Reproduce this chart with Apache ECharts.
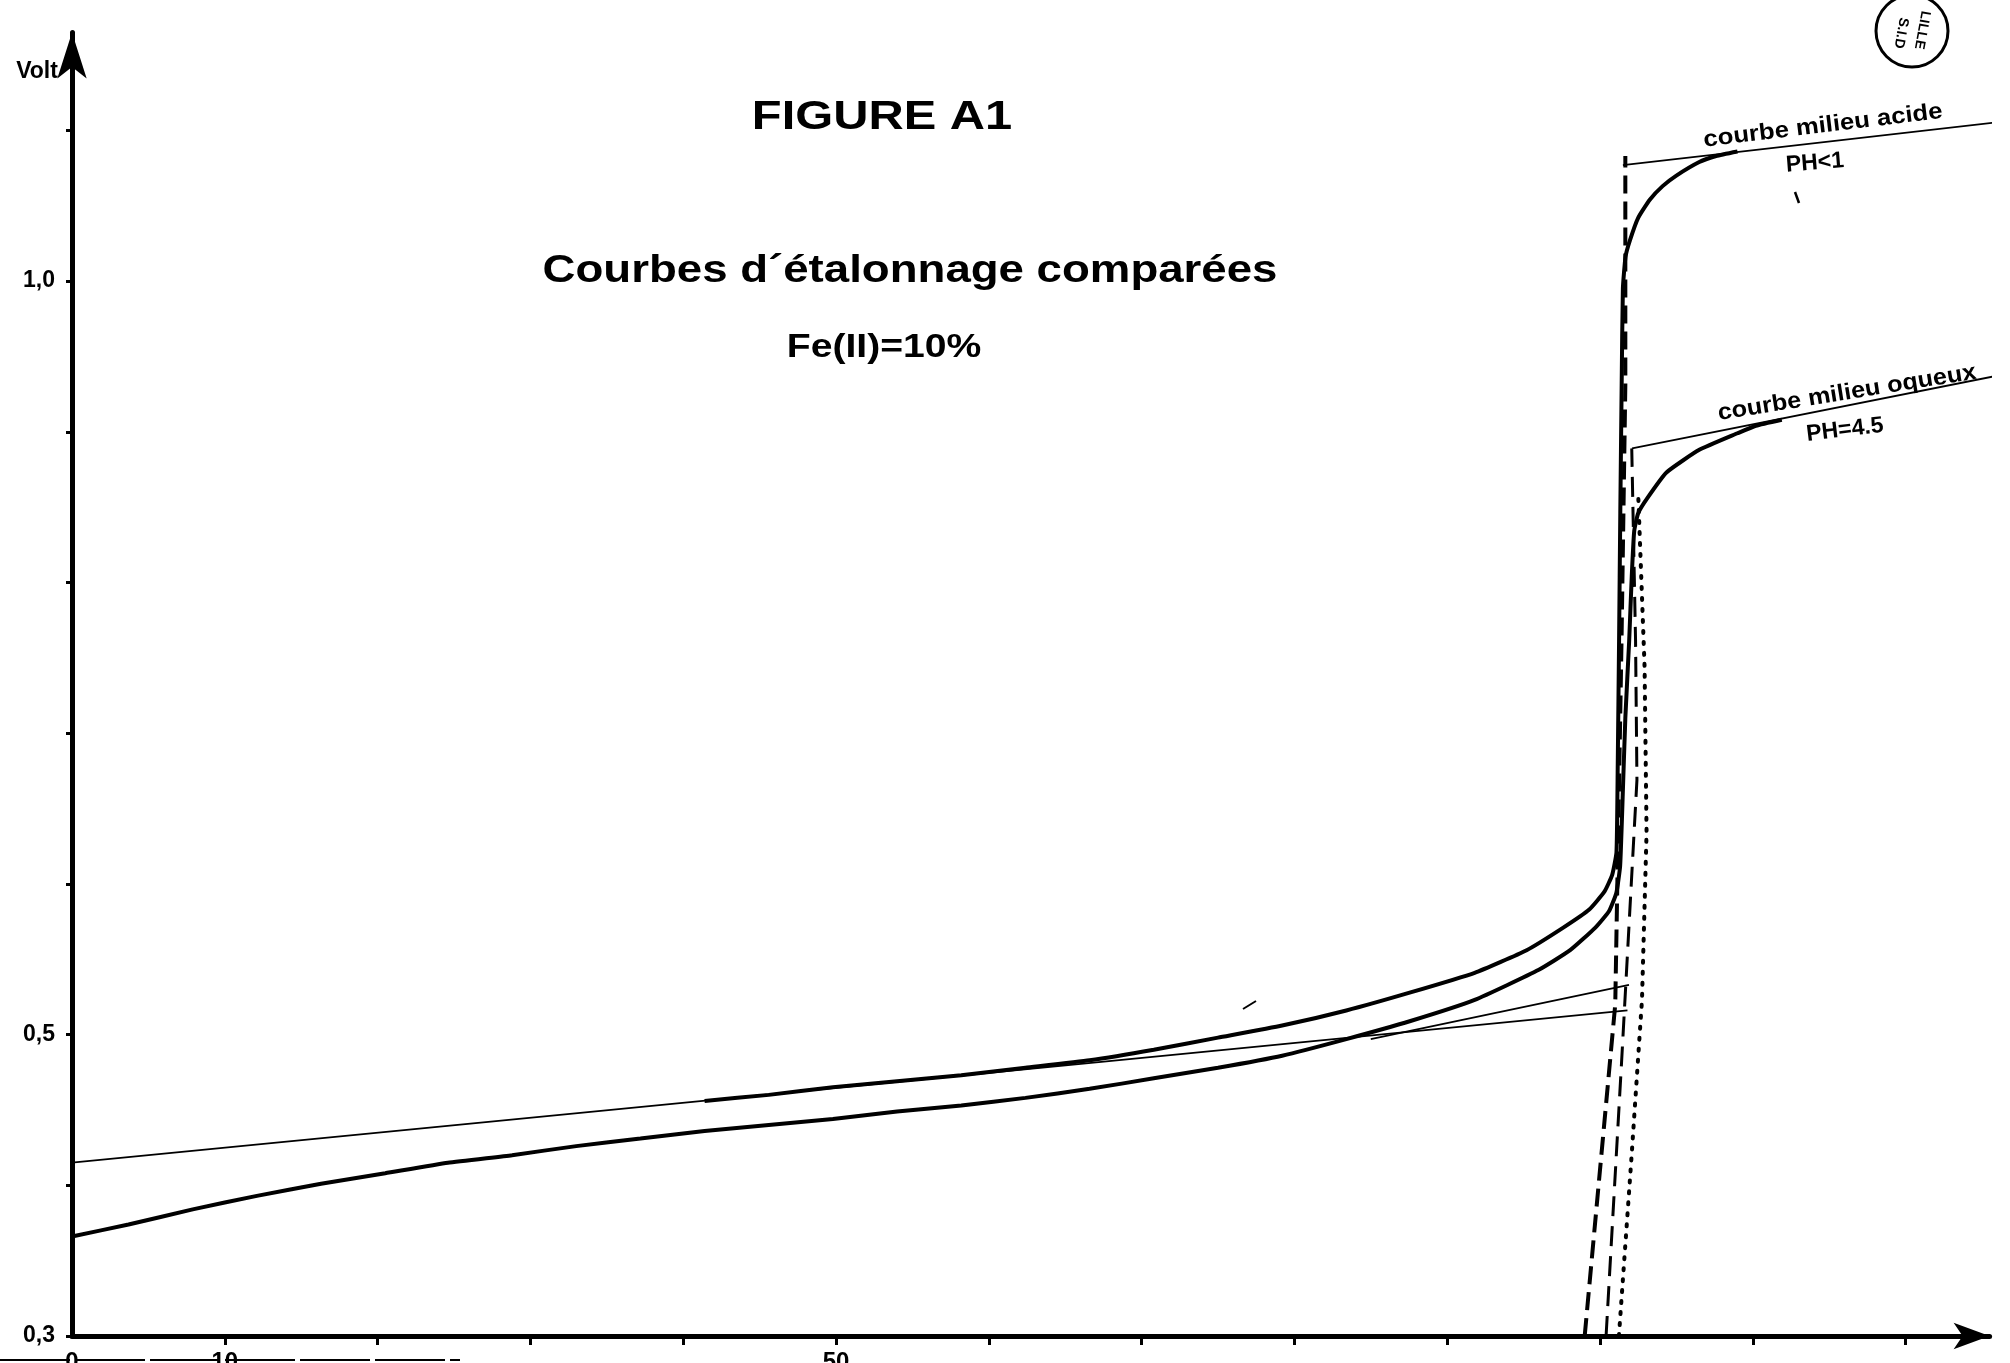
<!DOCTYPE html>
<html><head><meta charset="utf-8">
<script src="https://cdn.jsdelivr.net/npm/echarts@6/dist/echarts.min.js"></script>
<style>html,body{margin:0;padding:0;background:#fff;overflow:hidden}#c{width:2010px;height:1363px}</style>
</head><body><div id="c"></div>
<script>
// ---- axis ticks / labels ----
const xTickValues = [10,20,30,40,50,60,70,80,90,100,110,120];
const xLabelValues = [0,10,50];
const yTickValues = [0.3,0.4,0.5,0.6,0.7,0.8,0.9,1.0,1.1];
const yLabelValues = [0.3,0.5,1.0];

// ---- curve: milieu acide (PH<1) ----
const acidX = [41.4,45.6,49.8,54.0,58.2,62.4,66.6,70.8,75.0,79.2,83.4,87.6,91.8,95.2,97.6,99.3,100.3,100.8,101.08,101.16,101.25,101.33,101.42,101.5,101.67,101.96,102.5,103.26,104.1,105.0,106.5,107.6,109.0];
const acidY = [0.456,0.460,0.465,0.469,0.473,0.478,0.483,0.490,0.498,0.506,0.516,0.528,0.541,0.556,0.571,0.583,0.595,0.606,0.621,0.676,0.761,0.846,0.931,0.995,1.016,1.027,1.042,1.054,1.063,1.070,1.079,1.083,1.086];

// ---- curve: milieu aqueux (PH=4.5) ----
const aqX = [0,3.7,7.9,12.1,16.3,20.5,24.6,28.8,33.0,37.2,41.4,45.6,49.8,54.0,58.2,62.4,66.6,70.8,75.0,79.2,83.4,87.6,91.8,96.0,98.05,99.7,100.6,101.07,101.32,101.49,101.66,101.91,102.08,102.24,102.5,103.1,104.35,106.5,109.0,110.2,111.9];
const aqY = [0.366,0.374,0.384,0.393,0.401,0.408,0.415,0.420,0.426,0.431,0.436,0.440,0.444,0.449,0.453,0.458,0.464,0.471,0.478,0.486,0.497,0.509,0.523,0.543,0.556,0.571,0.582,0.594,0.612,0.659,0.710,0.761,0.804,0.834,0.846,0.856,0.873,0.888,0.899,0.904,0.908];

// ---- tangent lines (thin) ----
const tanLowX = [0,101.8];       const tanLowY = [0.415,0.516];
const tanMidX = [85.0,101.9];    const tanMidY = [0.497,0.533];
const tanAcidX = [101.5,126.6];  const tanAcidY = [1.077,1.106];
const tanAqX = [102.1,126.4];    const tanAqY = [0.889,0.938];

// ---- steep construction lines ----
const dashAcidX = [99.0,101.0,101.41,101.66,101.66];
const dashAcidY = [0.300,0.520,0.761,0.931,1.083];
const dashAqX = [100.4,101.41,102.42,102.33,102.08];
const dashAqY = [0.300,0.481,0.669,0.761,0.889];
const dotX = [101.24,102.08,102.75,103.05,102.92,102.5];
const dotY = [0.300,0.421,0.523,0.634,0.744,0.859];

const zip = (xs, ys) => xs.map((x, i) => [x, ys[i]]);
const FONT = '"Liberation Sans", Arial, sans-serif';

function line(name, xs, ys, width, type, smooth, cap) {
  return {
    name, type: 'line', data: zip(xs, ys), showSymbol: false, symbol: 'none',
    smooth: smooth || false, clip: false, silent: true,
    lineStyle: { color: '#000', width, type: type || 'solid', cap: cap || 'butt' }
  };
}
function txt(text, x, y, size, opts) {
  return Object.assign({ type: 'text', x, y, style: { text, font: 'bold ' + size + 'px ' + FONT, fill: '#000',
    align: 'center', verticalAlign: 'middle', textAlign: 'center', textVerticalAlign: 'middle' } }, opts || {});
}

const chart = echarts.init(document.getElementById('c'));
chart.setOption({
  backgroundColor: '#fff',
  animation: false,
  grid: { left: 72, right: 20.4, top: 32.4, bottom: 27, containLabel: false, outerBoundsMode: 'none' },
  xAxis: {
    type: 'value', min: 0, max: 125.5,
    axisLine: { onZero: false, symbol: ['none', 'arrow'], symbolSize: [20, 36], lineStyle: { color: '#000', width: 5 } },
    axisTick: { show: true, customValues: xTickValues, length: 9, inside: false, lineStyle: { color: '#000', width: 3 } },
    axisLabel: { customValues: xLabelValues, margin: 14, color: '#000', fontSize: 24, fontWeight: 'bold', fontFamily: FONT },
    splitLine: { show: false }
  },
  yAxis: {
    type: 'value', min: 0.3, max: 1.165,
    axisLine: { onZero: false, symbol: ['none', 'arrow'], symbolSize: [22, 46], lineStyle: { color: '#000', width: 5 } },
    axisTick: { show: true, customValues: yTickValues, length: 6, lineStyle: { color: '#000', width: 3 } },
    axisLabel: { customValues: yLabelValues, margin: 17, color: '#000', fontSize: 23, fontWeight: 'bold', fontFamily: FONT,
      formatter: v => v.toFixed(1).replace('.', ',') },
    splitLine: { show: false }
  },
  series: [
    line('acide', acidX, acidY, 4, 'solid', 0.15),
    line('aqueux', aqX, aqY, 4, 'solid', 0.15),
    line('tangente basse', tanLowX, tanLowY, 1.8),
    line('tangente moyenne', tanMidX, tanMidY, 1.8),
    line('tangente acide', tanAcidX, tanAcidY, 1.8),
    line('tangente aqueux', tanAqX, tanAqY, 1.8),
    line('pointillé acide', dashAcidX, dashAcidY, 4, [18, 8]),
    line('pointillé aqueux', dashAqX, dashAqY, 3, [20, 10]),
    line('points', dotX, dotY, 4, [2, 9], false, 'round')
  ],
  graphic: [
    txt('Volt', 37, 72, 23),
    txt('FIGURE A1', 882, 118, 40, { scaleX: 1.22 }),
    txt('Courbes d´étalonnage comparées', 910, 272, 38, { scaleX: 1.2 }),
    txt('Fe(II)=10%', 884, 348, 34, { scaleX: 1.15 }),
    txt('courbe milieu acide', 1823, 126, 23, { rotation: 0.12, scaleX: 1.12 }),
    txt('PH<1', 1815, 163, 23, { rotation: 0.08 }),
    txt('courbe milieu oqueux', 1847, 393, 23, { rotation: 0.16, scaleX: 1.1 }),
    txt('PH=4.5', 1845, 430, 23, { rotation: 0.12 }),
    { type: 'circle', shape: { cx: 1912, cy: 31, r: 36 }, style: { fill: 'none', stroke: '#000', lineWidth: 3 } },
    txt('LILLE', 1922, 30, 14, { rotation: -1.75 }),
    txt('S.I.D', 1901, 33, 14, { rotation: -1.75 }),
    { type: 'line', shape: { x1: 1795, y1: 192, x2: 1799, y2: 203 }, style: { stroke: '#000', lineWidth: 2.5 } },
    { type: 'line', shape: { x1: 1243, y1: 1009, x2: 1256, y2: 1001 }, style: { stroke: '#000', lineWidth: 2 } },
    { type: 'line', shape: { x1: 0, y1: 1360, x2: 460, y2: 1360 }, style: { stroke: '#000', lineWidth: 2, lineDash: [70, 5] } }
  ]
});
</script></body></html>
